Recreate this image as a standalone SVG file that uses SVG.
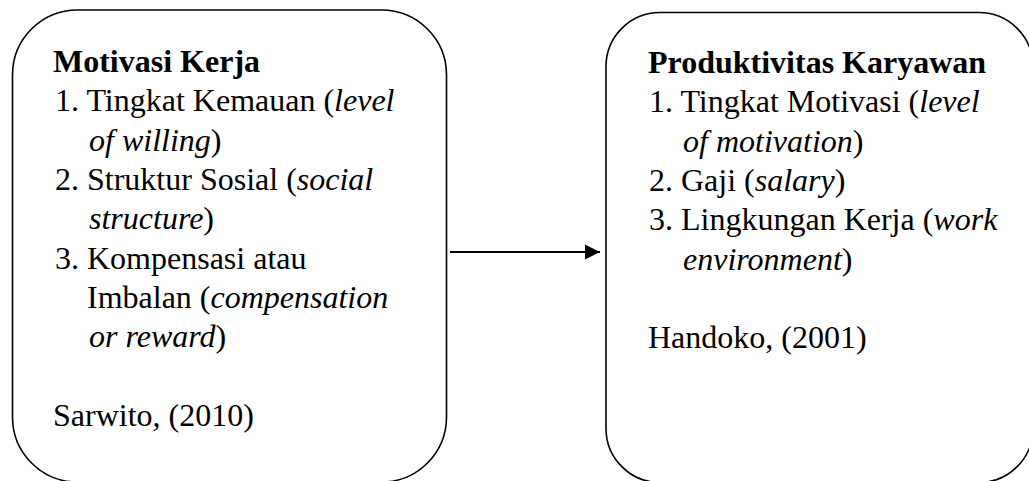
<svg xmlns="http://www.w3.org/2000/svg" width="1029" height="481" viewBox="0 0 1029 481">
<style>
.box{fill:#fff;stroke:#000;stroke-width:1.6}
text{font-family:"Liberation Serif","Times New Roman",serif;font-size:32px;fill:#000}
.b{font-weight:bold}
.i{font-style:italic}
.conn{stroke:#000;stroke-width:2.2;fill:none}
</style>
<defs>
<marker id="ah" markerWidth="8" markerHeight="8" refX="7" refY="3.5" orient="auto" markerUnits="strokeWidth">
<path d="M0,0 L7,3.5 L0,7 Z" fill="#000"/>
</marker>
</defs>
<rect width="1029" height="481" fill="#fff"/>
<g id="node-motivasi">
<rect class="box" x="12.5" y="10" width="434" height="472" rx="65" ry="65"/>
<text class="b" x="53" y="72">Motivasi Kerja</text>
<text x="55" y="111.3">1. Tingkat Kemauan (<tspan class="i">level</tspan></text>
<text x="89" y="150.6"><tspan class="i">of willing</tspan>)</text>
<text x="55" y="189.9">2. Struktur Sosial (<tspan class="i">social</tspan></text>
<text x="89" y="229.2"><tspan class="i">structure</tspan>)</text>
<text x="55" y="268.5">3. Kompensasi atau</text>
<text x="87" y="307.8">Imbalan (<tspan class="i">compensation</tspan></text>
<text x="89" y="347.1"><tspan class="i">or reward</tspan>)</text>
<text x="53" y="425.7">Sarwito, (2010)</text>
</g>
<g id="node-produktivitas">
<rect class="box" x="606" y="12.5" width="427" height="470" rx="54" ry="54"/>
<text class="b" x="648" y="73">Produktivitas Karyawan</text>
<text x="649" y="112.3">1. Tingkat Motivasi (<tspan class="i">level</tspan></text>
<text x="683" y="151.6"><tspan class="i">of motivation</tspan>)</text>
<text x="649" y="190.9">2. Gaji (<tspan class="i">salary</tspan>)</text>
<text x="649" y="230.2">3. Lingkungan Kerja (<tspan class="i">work</tspan></text>
<text x="683" y="269.5"><tspan class="i">environment</tspan>)</text>
<text x="648" y="348.1">Handoko, (2001)</text>
</g>
<g id="connectors">
<line class="conn" x1="450" y1="252" x2="600" y2="252" marker-end="url(#ah)"/>
</g>
</svg>
